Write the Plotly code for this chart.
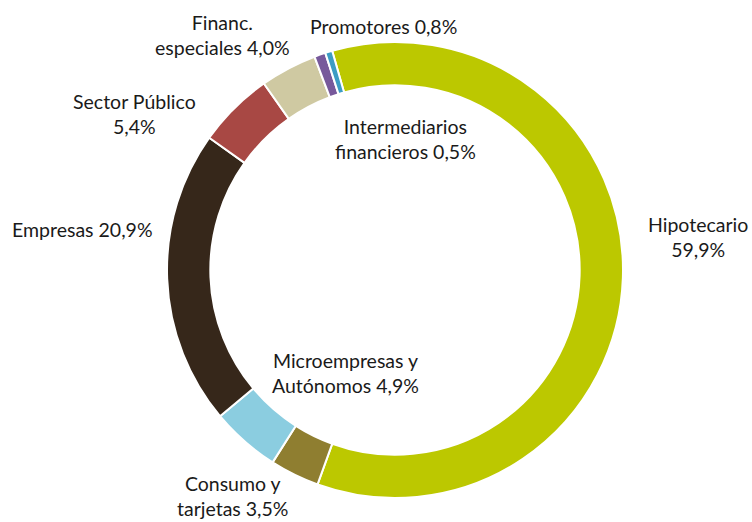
import plotly.graph_objects as go

# Datos: distribución de la cartera (%)
categorias = [
    "Hipotecario",
    "Consumo y tarjetas",
    "Microempresas y Autónomos",
    "Empresas",
    "Sector Público",
    "Financ. especiales",
    "Promotores",
    "Intermediarios financieros",
]
valores = [59.9, 3.5, 4.9, 20.9, 5.4, 4.0, 0.8, 0.5]
colores = ["#BCC800", "#8F7E30", "#8BCDE0", "#36271A", "#A84844", "#CFC9A2", "#77599B", "#3C9CC4"]

# Etiquetas: (texto con salto de línea, x px, y px)
etiquetas = [
    ("Hipotecario<br>{}", 698, 237),
    ("Consumo y<br>tarjetas {}", 232, 496),
    ("Microempresas y<br>Autónomos {}", 345, 373),
    ("Empresas {}", 82, 230),
    ("Sector Público<br>{}", 134, 114),
    ("Financ.<br>especiales {}", 222, 35),
    ("Promotores {}", 384, 27),
    ("Intermediarios<br>financieros {}", 405, 139),
]

W, H = 752, 522

fig = go.Figure()

fig.add_trace(go.Pie(
    labels=categorias,
    values=valores,
    hole=0.81,
    sort=False,
    direction="clockwise",
    rotation=-16,
    marker=dict(colors=colores, line=dict(color="white", width=2)),
    textinfo="none",
    hoverinfo="label+percent",
    domain=dict(x=[(395 - 228) / W, (395 + 228) / W], y=[24 / H, 1 - 42 / H]),
))

for (plantilla, px, py), v in zip(etiquetas, valores):
    fig.add_annotation(
        x=px / W,
        y=1 - py / H,
        xref="paper",
        yref="paper",
        text=plantilla.format(f"{v:.1f}%".replace(".", ",")),
        showarrow=False,
        align="center",
        xanchor="center",
        yanchor="middle",
        font=dict(family="Lato", size=19.5, color="#1a1a1a"),
    )

fig.update_layout(
    width=W,
    height=H,
    showlegend=False,
    margin=dict(l=0, r=0, t=0, b=0),
    paper_bgcolor="white",
    plot_bgcolor="white",
)

# quitar el margen por defecto del body para que la figura ocupe la ventana
fig.write_html(
    "out.html",
    config={"displayModeBar": False},
    post_script="document.body.style.margin='0';",
)
